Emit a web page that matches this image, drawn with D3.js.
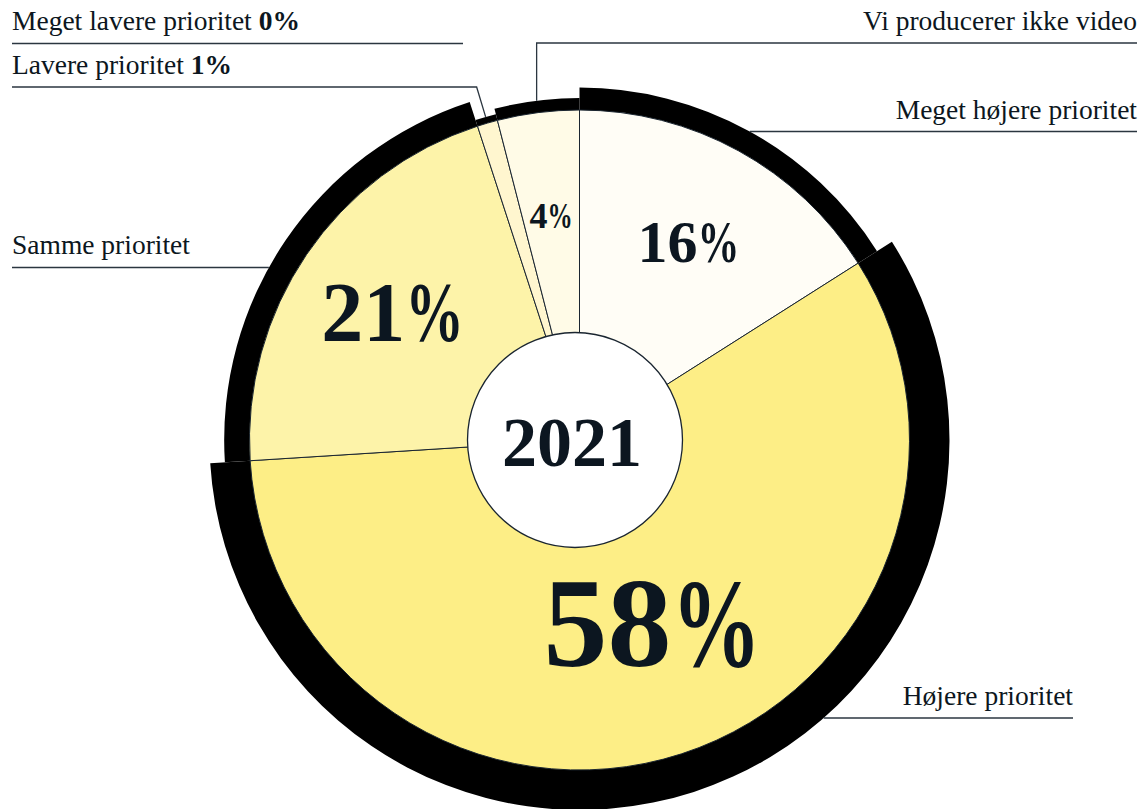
<!DOCTYPE html>
<html lang="da">
<head>
<meta charset="utf-8">
<script src="https://cdn.jsdelivr.net/npm/d3@7"></script>
<style>
  html, body { margin: 0; padding: 0; background: #ffffff; }
  svg { display: block; }
</style>
</head>
<body>
<svg id="chart" width="1142" height="809"></svg>
<script>
// Prioritering af video, 2021 – fordeling af svar
const categories = [
  "Meget højere prioritet",
  "Højere prioritet",
  "Samme prioritet",
  "Lavere prioritet",
  "Meget lavere prioritet",
  "Vi producerer ikke video"
];
const values = [16, 58, 21, 1, 0, 4];
const sliceColors = ["#fffdf6", "#fdee86", "#fdf3a9", "#fff6cf", "#fff3c0", "#fffbe7"];
const centerLabel = "2021";

const W = 1142, H = 809;
const cx = 579.5, cy = 440;      // pie centre
const R = 330;                    // pie radius
const holeX = 575, holeR = 107.5; // centre disc
const ink = "#0c1620";
const lineCol = "#2b3640";
const serif = "'Liberation Serif', 'Times New Roman', serif";

const svg = d3.select("#chart");
const root = svg.append("g").attr("transform", `translate(${cx},${cy})`);

const data = categories.map((c, i) => ({ cat: c, value: values[i], color: sliceColors[i] }));
const pie = d3.pie().sort(null).value(d => d.value);
const arcs = pie(data);

// Thickness of the black rim grows with the share
const rim = d3.scalePow().exponent(0.45).domain([0, d3.max(values)]).range([0, 40]);

const sliceArc = d3.arc().innerRadius(0).outerRadius(R);
const rimArc = d3.arc().innerRadius(R - 0.5).outerRadius(d => R + rim(d.data.value));

// black rim segments
root.selectAll("path.rim").data(arcs.filter(a => a.data.value > 0)).join("path")
  .attr("class", "rim")
  .attr("d", rimArc)
  .attr("fill", "#000");

// slices
root.selectAll("path.slice").data(arcs.filter(a => a.data.value > 0)).join("path")
  .attr("class", "slice")
  .attr("d", sliceArc)
  .attr("fill", d => d.data.color)
  .attr("stroke", "#1a2530")
  .attr("stroke-width", 1)
  .attr("stroke-linejoin", "round");

// centre disc
svg.append("circle")
  .attr("cx", holeX).attr("cy", cy).attr("r", holeR)
  .attr("fill", "#fff").attr("stroke", "#1a2530").attr("stroke-width", 1.3);

svg.append("text")
  .attr("x", holeX - 3).attr("y", cy + 26)
  .attr("text-anchor", "middle")
  .attr("font-family", serif).attr("font-weight", 700)
  .attr("font-size", 70).attr("fill", ink)
  .text(centerLabel);

// value labels inside the slices
function polar(angle, r) {
  return [cx + r * Math.sin(angle), cy - r * Math.cos(angle)];
}
function pctLabel(x, y, value, size) {
  const g = svg.append("g").attr("transform", `translate(${x},${y + 0.338 * size})`);
  const num = g.append("text")
    .attr("font-family", serif).attr("font-weight", 700)
    .attr("font-size", size).attr("fill", ink).text(value);
  const pc = g.append("text")
    .attr("font-family", serif).attr("font-weight", 700)
    .attr("font-size", size).attr("fill", ink).text("%");
  const sx = 0.7;
  const nw = num.node().getComputedTextLength();
  const pw = pc.node().getComputedTextLength() * sx;
  const x0 = -(nw + pw) / 2;
  num.attr("x", x0);
  pc.attr("transform", `translate(${x0 + nw},0) scale(${sx},1)`);
}
// type size per share
const sizeScale = d3.scaleLinear().domain([4, 16, 21, 58]).range([36, 60, 84, 128]);
arcs.filter(a => a.data.value >= 4).forEach(a => {
  const big = a.data.value > 50;
  // the largest label sits a little off the bisector, nearer the centre
  const mid = (a.startAngle + a.endAngle) / 2 - (big ? 0.065 : 0);
  const r = big ? 197 : 226;
  const [x, y] = polar(mid, r);
  pctLabel(x, y, a.data.value, sizeScale(a.data.value));
});

// category labels with leader lines
const labelFont = 27.5;
function label(x, y, anchor, cat, valueText) {
  const t = svg.append("text")
    .attr("x", x).attr("y", y)
    .attr("text-anchor", anchor)
    .attr("font-family", serif).attr("font-size", labelFont).attr("fill", ink);
  t.append("tspan").text(cat);
  if (valueText !== undefined) {
    t.append("tspan").attr("font-weight", 700).text(" " + valueText);
  }
}
function leader(points) {
  svg.append("path")
    .attr("d", d3.line()(points))
    .attr("fill", "none").attr("stroke", lineCol).attr("stroke-width", 1.3);
}
const byCat = Object.fromEntries(arcs.map(a => [a.data.cat, a]));
const outerR = a => R + rim(a.data.value);
// x where a horizontal line at height y meets the rim of a slice
function rimX(a, y, side) {
  const rr = outerR(a), dy = y - cy;
  return cx + side * Math.sqrt(rr * rr - dy * dy);
}

const leftX = 12, rightX = 1137;

// Meget lavere prioritet (0%)
label(leftX, 30, "start", categories[4], values[4] + "%");
leader([[leftX, 43.5], [463, 43.5]]);

// Lavere prioritet (1%) – elbow into its thin rim segment
{
  const a = byCat[categories[3]];
  const mid = (a.startAngle + a.endAngle) / 2;
  const end = polar(mid, outerR(a));
  label(leftX, 74, "start", categories[3], values[3] + "%");
  leader([[leftX, 87], [end[0] - 9, 87], end]);
}

// Samme prioritet
{
  const a = byCat[categories[2]];
  label(leftX, 254, "start", categories[2]);
  leader([[leftX, 267.5], [rimX(a, 267.5, -1), 267.5]]);
}

// Vi producerer ikke video – drops straight down to its rim
{
  const a = byCat[categories[5]];
  const mid = (a.startAngle + a.endAngle) / 2;
  const end = polar(mid, outerR(a));
  label(rightX, 30, "end", categories[5]);
  leader([[rightX, 43], [end[0], 43], [end[0], end[1]]]);
}

// Meget højere prioritet
{
  const a = byCat[categories[0]];
  label(rightX, 119, "end", categories[0]);
  leader([[rightX, 131.5], [rimX(a, 131.5, 1), 131.5]]);
}

// Højere prioritet
{
  const a = byCat[categories[1]];
  label(1073, 705, "end", categories[1]);
  leader([[1073, 718], [rimX(a, 718, 1), 718]]);
}
</script>
</body>
</html>
